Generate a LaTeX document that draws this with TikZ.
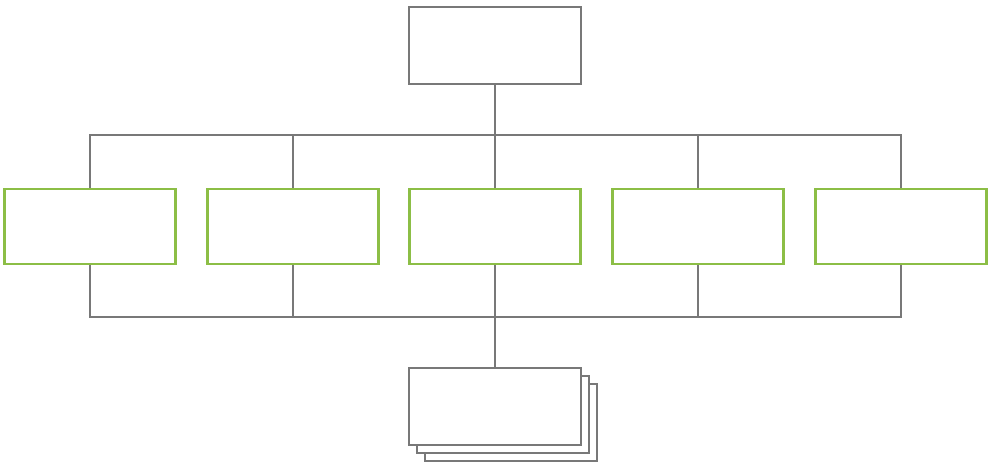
\documentclass[tikz,border=0pt]{standalone}
\usetikzlibrary{calc,positioning}
\definecolor{linegray}{RGB}{120,120,120}
\definecolor{leafgreen}{RGB}{140,190,70}
\tikzset{wire/.style={draw=linegray, line width=1.6pt},
  box/.style={draw=linegray, line width=1.6pt, fill=white, minimum width=43mm, minimum height=19.25mm, inner sep=0pt},
  gbox/.style={box, draw=leafgreen, minimum width=42.75mm, minimum height=18.75mm}}
\begin{document}
\begin{tikzpicture}[x=0.25mm, y=-0.25mm]
  \useasboundingbox (0,0) rectangle (992,463);
  \node[box] (head) at (495,45.5) {};
  \foreach \i/\x in {0/90, 1/293, 2/495, 3/698, 4/901}{
    \node[gbox] (g\i) at (\x,226.5) {};}
  \coordinate (up) at (0,135);
  \coordinate (dn) at (0,317);
  % upper rail
  \draw[wire] (g0.north) -- (g0.north |- up) -- (g4.north |- up) -- (g4.north);
  \foreach \i in {1,3}{
    \draw[wire] (g\i.north) -- (g\i.north |- up);}
  \draw[wire] (head.south) -- (g2.north);
  % lower rail
  \draw[wire] (g0.south) -- (g0.south |- dn) -- (g4.south |- dn) -- (g4.south);
  \foreach \i in {1,3}{
    \draw[wire] (g\i.south) -- (g\i.south |- dn);}
  % stacked pages
  \node[box] (doc2) at (511,422.5) {};
  \node[box] (doc1) at (503,414.5) {};
  \node[box] (doc0) at (495,406.5) {};
  \draw[wire] (g2.south) -- (doc0.north);
\end{tikzpicture}
\end{document}
